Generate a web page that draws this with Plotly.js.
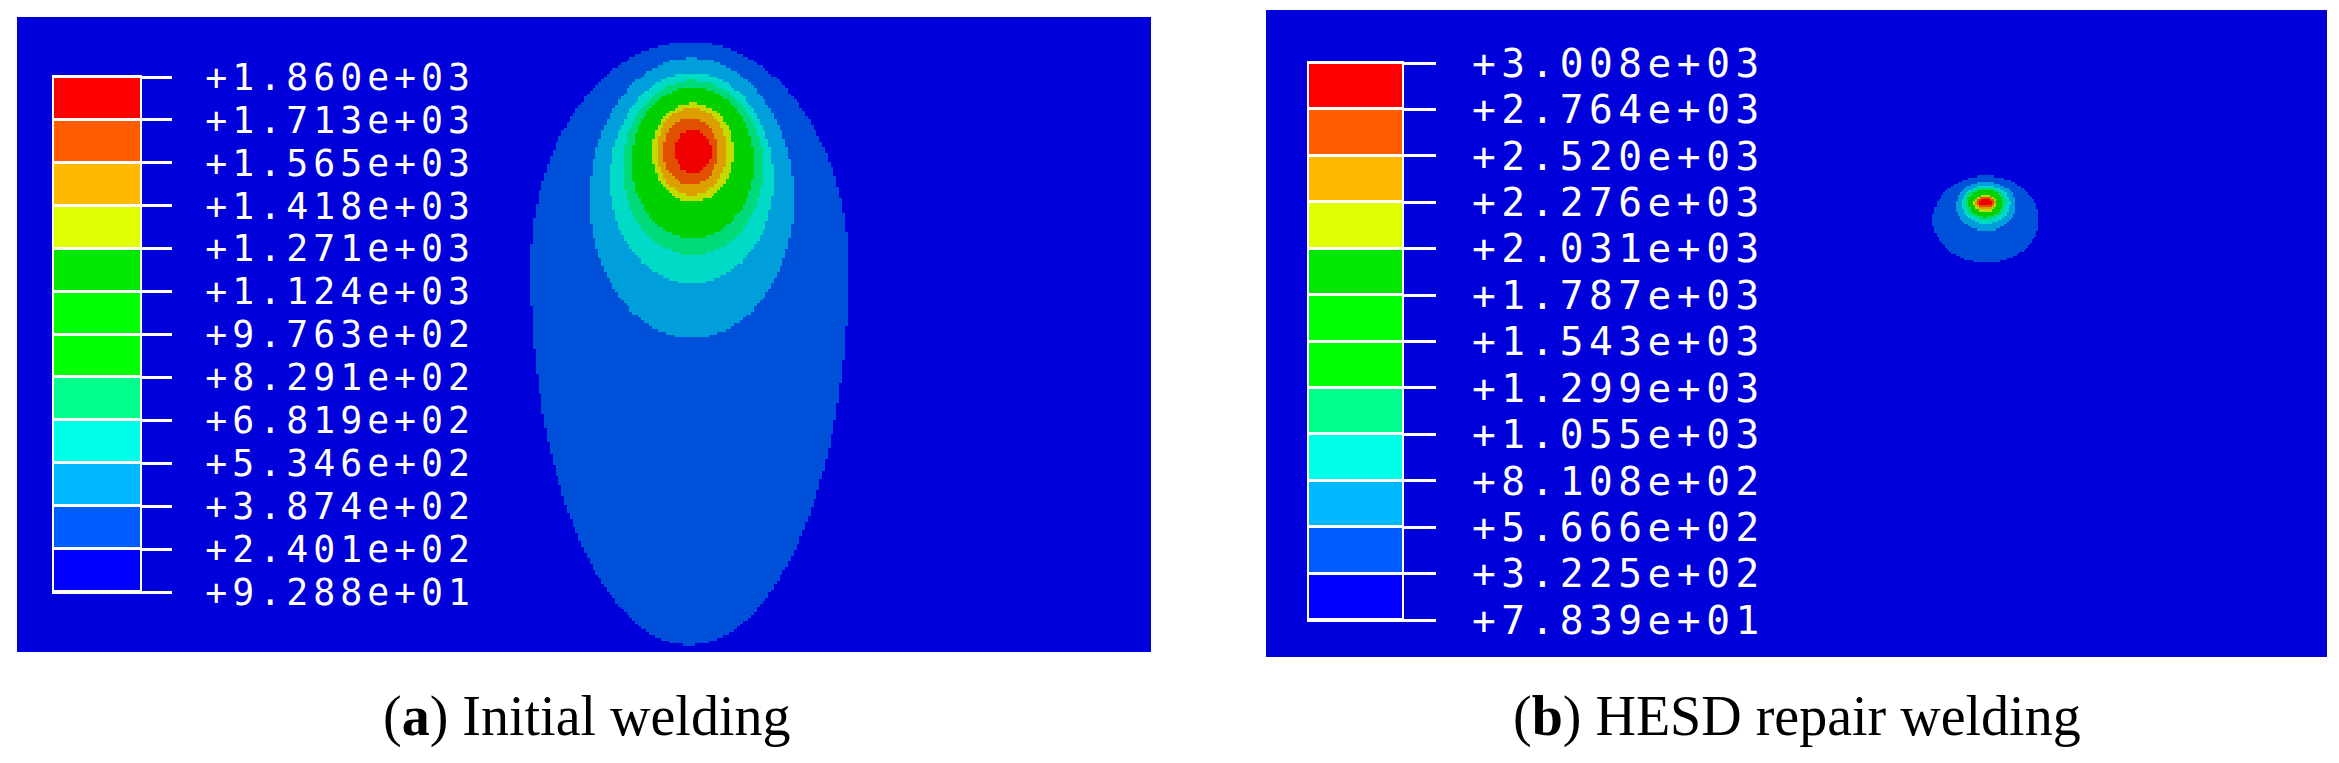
<!DOCTYPE html>
<html>
<head>
<meta charset="utf-8">
<script src="https://cdn.plot.ly/plotly-3.0.1.min.js"></script>
<style>
  html, body { margin: 0; padding: 0; background: #ffffff; }
  #chart { width: 2339px; height: 763px; }
  /* the legend font of the solver is wide and airy */
  #chart .y3tick text { letter-spacing: 5px; }
  #chart .y4tick text { letter-spacing: 5.5px; }
</style>
</head>
<body>
<div id="chart"></div>
<script>
// legend levels, top to bottom
var levelsA = [1860, 1713, 1565, 1418, 1271, 1124, 976.3, 829.1, 681.9, 534.6, 387.4, 240.1, 92.88];
var levelsB = [3008, 2764, 2520, 2276, 2031, 1787, 1543, 1299, 1055, 810.8, 566.6, 322.5, 78.39];

// band colours, band 1 (coolest) .. band 12 (hottest)
var legendColors = ["#0000ff", "#005dff", "#00b9ff", "#00ffe8", "#00ff8b", "#00ff00",
                    "#00ff00", "#00e800", "#e0ff00", "#ffb900", "#ff5d00", "#ff0000"];
// same spectrum as it shows on the shaded plate
var fieldColors = ["#0000da", "#0050da", "#009eda", "#00dac6", "#00da78", "#00d000",
                   "#00d000", "#00c800", "#c4da00", "#dc9e00", "#e05000", "#f00000"];

// isotherm outlines read from (a), plate coordinates (plate 100 x 56)
var isoBandA   = [2, 3, 4, 5, 6, 9, 10, 11, 12];
var isoCxA     = [59.3, 59.5, 59.5, 59.6, 59.6, 59.6, 59.5, 59.4, 59.6];
var isoCyA     = [22.1, 16.1, 14.4, 13.3, 12.8, 11.9, 11.8, 11.8, 11.8];
var isoRxA     = [14.0, 9.0, 7.2, 6.2, 5.4, 3.6, 3.1, 2.4, 1.6];
var isoTopA    = [2.2, 3.6, 4.9, 5.6, 6.2, 7.6, 8.0, 8.9, 10.0];
var isoBottomA = [55.4, 28.3, 23.5, 21.0, 19.5, 16.3, 15.7, 14.8, 13.8];

// isotherm outlines read from (b), plate coordinates (plate 100 x 61)
var isoBandB   = [2, 3, 4, 5, 6, 9, 10, 11, 12];
var isoCxB     = [67.86, 67.86, 67.86, 67.81, 67.81, 67.77, 67.77, 67.77, 67.77];
var isoCyB     = [19.79, 18.38, 18.19, 18.10, 18.10, 18.19, 18.19, 18.14, 18.14];
var isoRxB     = [5.0, 2.83, 2.26, 1.93, 1.65, 1.13, 0.94, 0.85, 0.66];
var isoTopB    = [15.65, 16.21, 16.59, 16.78, 16.96, 17.44, 17.53, 17.63, 17.81];
var isoBottomB = [23.85, 20.83, 20.17, 19.79, 19.51, 19.04, 18.85, 18.66, 18.47];

function fmtLevel(v) {
  var s = v.toExponential(3).split("e");
  var ex = parseInt(s[1], 10);
  var exs = (ex < 0 ? "-" : "+") + (Math.abs(ex) < 10 ? "0" : "") + Math.abs(ex);
  return "+" + s[0] + "e" + exs;
}

function stepScale(colors) {
  var cs = [];
  for (var k = 0; k < colors.length; k++) {
    cs.push([k / colors.length, colors[k]]);
    cs.push([(k + 1) / colors.length, colors[k]]);
  }
  return cs;
}

// band number of every cell of the plate
function bandField(w, h, step, band, cx, cy, rx, top, bottom) {
  var xs = [], ys = [], z = [];
  var nx = Math.round(w / step), ny = Math.round(h / step);
  for (var i = 0; i < nx; i++) xs.push((i + 0.5) * step);
  for (var j = 0; j < ny; j++) ys.push((j + 0.5) * step);
  for (j = 0; j < ny; j++) {
    var row = [];
    for (i = 0; i < nx; i++) {
      var val = 1;
      for (var k = band.length - 1; k >= 0; k--) {
        var dx = (xs[i] - cx[k]) / rx[k];
        var dy = ys[j] < cy[k] ? (cy[k] - ys[j]) / (cy[k] - top[k]) : (ys[j] - cy[k]) / (bottom[k] - cy[k]);
        if (dx * dx + dy * dy <= 1) { val = band[k]; break; }
      }
      row.push(val);
    }
    z.push(row);
  }
  return { x: xs, y: ys, z: z };
}

var fieldA = bandField(100, 56, 0.25, isoBandA, isoCxA, isoCyA, isoRxA, isoTopA, isoBottomA);
var fieldB = bandField(100, 61, 0.2, isoBandB, isoCxB, isoCyB, isoRxB, isoTopB, isoBottomB);

var legendY = [], legendZ = [];
for (var k = 0; k < 12; k++) { legendY.push(k + 0.5); legendZ.push([k + 1]); }
var tickVals = [];
for (k = 12; k >= 0; k--) tickVals.push(k);

var fieldScale = stepScale(fieldColors);
var legendScale = stepScale(legendColors);

function fieldTrace(f, xa, ya) {
  return {
    type: "heatmap", x: f.x, y: f.y, z: f.z,
    colorscale: fieldScale, zmin: 0.5, zmax: 12.5, zsmooth: false,
    showscale: false, hoverinfo: "skip", xaxis: xa, yaxis: ya
  };
}

function legendTrace(xa, ya) {
  return {
    type: "heatmap", x: [0], y: legendY, z: legendZ,
    colorscale: legendScale, zmin: 0.5, zmax: 12.5, ygap: 3,
    showscale: false, hoverinfo: "skip", xaxis: xa, yaxis: ya
  };
}

var data = [
  fieldTrace(fieldA, "x", "y"),
  fieldTrace(fieldB, "x2", "y2"),
  legendTrace("x3", "y3"),
  legendTrace("x4", "y4")
];

var W = 2339, H = 763;
function hdom(a, b) { return [a / W, b / W]; }
function vdom(top, bottom) { return [1 - bottom / H, 1 - top / H]; }

var hidden = { visible: false, fixedrange: true };

function legendX(dom, anchor) {
  return {
    domain: dom, anchor: anchor, range: [-0.5, 0.5],
    showticklabels: false, ticks: "", showgrid: false, zeroline: false,
    showline: true, linecolor: "#ffffff", linewidth: 2, mirror: true
  };
}

function legendYAxis(dom, anchor, levels, size, len, standoff) {
  return {
    domain: dom, anchor: anchor, range: [0, 12], side: "right",
    tickmode: "array", tickvals: tickVals, ticktext: levels.map(fmtLevel),
    ticks: "outside", ticklen: len, tickwidth: 3, tickcolor: "#ffffff",
    ticklabelstandoff: standoff,
    tickfont: { family: "DejaVu Sans Mono", size: size, color: "#ffffff" },
    showgrid: false, zeroline: false,
    showline: true, linecolor: "#ffffff", linewidth: 2, mirror: true
  };
}

var layout = {
  width: W, height: H,
  margin: { l: 0, r: 0, t: 0, b: 0 },
  paper_bgcolor: "#ffffff",
  plot_bgcolor: "#ffffff",
  showlegend: false,
  xaxis: Object.assign({ domain: hdom(17, 1151), range: [0, 100], anchor: "y" }, hidden),
  yaxis: Object.assign({ domain: vdom(17, 652), range: [56, 0], anchor: "x" }, hidden),
  xaxis2: Object.assign({ domain: hdom(1266, 2327), range: [0, 100], anchor: "y2" }, hidden),
  yaxis2: Object.assign({ domain: vdom(10, 657), range: [61, 0], anchor: "x2" }, hidden),
  xaxis3: legendX(hdom(54, 140), "y3"),
  yaxis3: legendYAxis(vdom(77, 592), "x3", levelsA, 36.5, 30, 26),
  xaxis4: legendX(hdom(1309, 1402), "y4"),
  yaxis4: legendYAxis(vdom(63, 620), "x4", levelsB, 39.5, 32, 28),
  annotations: [
    {
      text: "(<b>a</b>) Initial welding", xref: "paper", yref: "paper",
      x: 586 / W, y: 1 - 716 / H, xanchor: "center", yanchor: "middle", showarrow: false,
      font: { family: "Liberation Serif", size: 56, color: "#000000" }
    },
    {
      text: "(<b>b</b>) HESD repair welding", xref: "paper", yref: "paper",
      x: 1797 / W, y: 1 - 716 / H, xanchor: "center", yanchor: "middle", showarrow: false,
      font: { family: "Liberation Serif", size: 56, color: "#000000" }
    }
  ]
};

Plotly.newPlot("chart", data, layout, { staticPlot: true, displayModeBar: false });
</script>
</body>
</html>
